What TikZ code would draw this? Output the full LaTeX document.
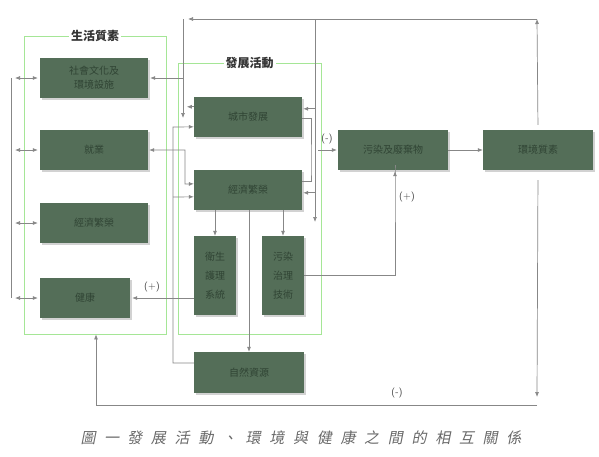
\documentclass[tikz,border=0pt]{standalone}
\usepackage{fontspec}
\newfontfamily\cjk{Noto Sans CJK TC}
\newfontfamily\capfont[FakeSlant=0.2,LetterSpace=58]{Noto Sans CJK TC}
\usetikzlibrary{arrows.meta,calc,shadows}
\definecolor{boxc}{RGB}{84,110,88}
\definecolor{boxtxt}{RGB}{48,68,52}
\definecolor{linec}{RGB}{135,135,135}
\definecolor{greenc}{RGB}{165,230,150}
\definecolor{capc}{RGB}{105,105,105}
\tikzset{
  box/.style={fill=boxc, minimum width=108pt, minimum height=40pt, inner sep=0pt,
    font=\cjk\fontsize{10}{14}\selectfont, text=boxtxt, align=center,
    drop shadow={shadow xshift=1.5pt, shadow yshift=-1.5pt, opacity=0.35}},
  frame/.style={draw=greenc, line width=0.8pt, inner sep=0pt},
  ftitle/.style={fill=white, inner sep=2pt, font=\cjk\bfseries\fontsize{12}{14}\selectfont, text=black!80},
  conn/.style={draw=linec, line width=0.7pt},
  arr/.style={conn, -{Latex[length=5pt,width=4pt]}},
  dbl/.style={conn, {Latex[length=5pt,width=4pt]}-{Latex[length=5pt,width=4pt]}},
  sign/.style={font=\sffamily\fontsize{10}{12}\selectfont, text=black!75, inner sep=1pt}
}
\begin{document}
\begin{tikzpicture}[x=1pt,y=-1pt]
\useasboundingbox (0,0) rectangle (599,456);
\fill[white] (0,0) rectangle (599,456);
% frames
\node[frame, minimum width=142pt, minimum height=298pt] (ql) at (95,185) {};
\node[frame, minimum width=143pt, minimum height=271pt] (dev) at (249.5,198.5) {};
\node[ftitle] (qlt) at (ql.north) {生活質素};
\node[ftitle] (devt) at (dev.north) {發展活動};
% boxes
\node[box] (soc) at (94,78) {社會文化及\\環境設施};
\node[box] (emp) at (94,150) {就業};
\node[box] (eco1) at (94,223) {經濟繁榮};
\node[box, minimum width=90pt] (hea) at (85,298) {健康};
\node[box] (city) at (248,117) {城市發展};
\node[box] (eco2) at (248,190) {經濟繁榮};
\node[box, minimum width=42pt, minimum height=79pt, font=\cjk\fontsize{10}{19}\selectfont] (hyg) at (215,275.5) {衛生\\護理\\系統};
\node[box, minimum width=42pt, minimum height=79pt, font=\cjk\fontsize{10}{19}\selectfont] (pol) at (283,275.5) {污染\\治理\\技術};
\node[box, minimum width=110pt, minimum height=41pt] (nat) at (249,372.5) {自然資源};
\node[box, minimum width=110pt] (waste) at (393,150) {污染及廢棄物};
\node[box, minimum width=110pt] (env) at (538,150) {環境質素};
% coordinates
\coordinate (L) at (15,0);
\coordinate (T1) at (537,19);
\coordinate (T2) at (188,19);
\coordinate (V1) at (183,19);
\coordinate (V2) at (183,118);
\coordinate (R1) at (315,19);
\coordinate (R2) at (315,222);
\coordinate (X1) at (173,0);
\coordinate (X2) at (185,0);
\coordinate (X3) at (311,0);
\coordinate (B1) at (537,405);
\coordinate (B2) at (96,405);
\coordinate (B3) at (537,397);
\coordinate (W1) at (318,150);
% left column
\draw[conn] (11,78) -- (11,298);
\foreach \n in {soc,emp,eco1,hea}{
  \draw[dbl, shorten >=2pt] (\n.west -| L) -- (\n.west);
}
% top loop
\draw[arr, shorten <=5pt] (env.north) -- (T1);
\draw[arr] (T1) -- (T2);
\draw[arr] (V1) -- (V2);
\draw[arr, shorten >=2pt] (soc.east -| V1) -- (soc.east);
\draw[arr] ($(city.north west)+(0,10)$) -- ($(city.north west)+(-7,10)$);
% right vertical
\draw[arr] (R1) -- (R2);
\draw[arr, shorten >=1pt] ($(city.north east)+(13,12)$) -- ($(city.north east)+(0,12)$);
\draw[arr, shorten >=1pt] ($(eco2.north east)+(13,23)$) -- ($(eco2.north east)+(0,23)$);
\draw[conn] ($(city.north east)+(0,22)$) -| (X3 |- eco2.north) |- ($(eco2.north east)+(0,12)$);
\draw[arr, shorten >=1pt] (W1) -- (waste.west);
\node[sign] (m1) at (327,139) {(-)};
% left verticals of dev
\draw[arr] (nat.west |- 0,363) -| (X1 |- 0,127) -- ($(city.north west)+(0,30)$);
\draw[arr] (X1 |- 0,197) -- ($(eco2.north west)+(0,27)$);
\draw[dbl, shorten <=1pt] (emp.east) -| (X2 |- 0,184) -- ($(eco2.north west)+(0,14)$);
% eco2 down
\draw[arr] (hyg.north |- eco2.south) -- (hyg.north);
\draw[arr] (pol.north |- eco2.south) -- (pol.north);
\draw[arr] (nat.north |- eco2.south) -- (nat.north);
% hyg -> health
\draw[arr, shorten >=2pt] (hyg.west |- hea.east) -- (hea.east);
\node[sign] (p1) at (152,287) {(+)};
% pol -> waste
\draw[arr, shorten >=1pt] ($(pol.north east)+(0,40)$) -| (395,0 |- waste.south) -- ([xshift=2pt]waste.south);
\node[sign] (p2) at (407,197) {(+)};
% waste -> env
\draw[arr] (waste.east) -- (env.west);
% env -> bottom -> quality of life
\draw[arr, shorten <=10pt] (env.south) -- (B3);
\draw[arr] (B1) -- (B2) -- (B2 |- ql.south);
\node[sign] (m2) at (397,393) {(-)};
% caption
\node[font=\capfont\fontsize{15}{18}\selectfont, text=capc, anchor=west] (cap) at (77,438) {圖一\kern 8pt 發展活動、環境與健康之間的相互關係};
\end{tikzpicture}
\end{document}
